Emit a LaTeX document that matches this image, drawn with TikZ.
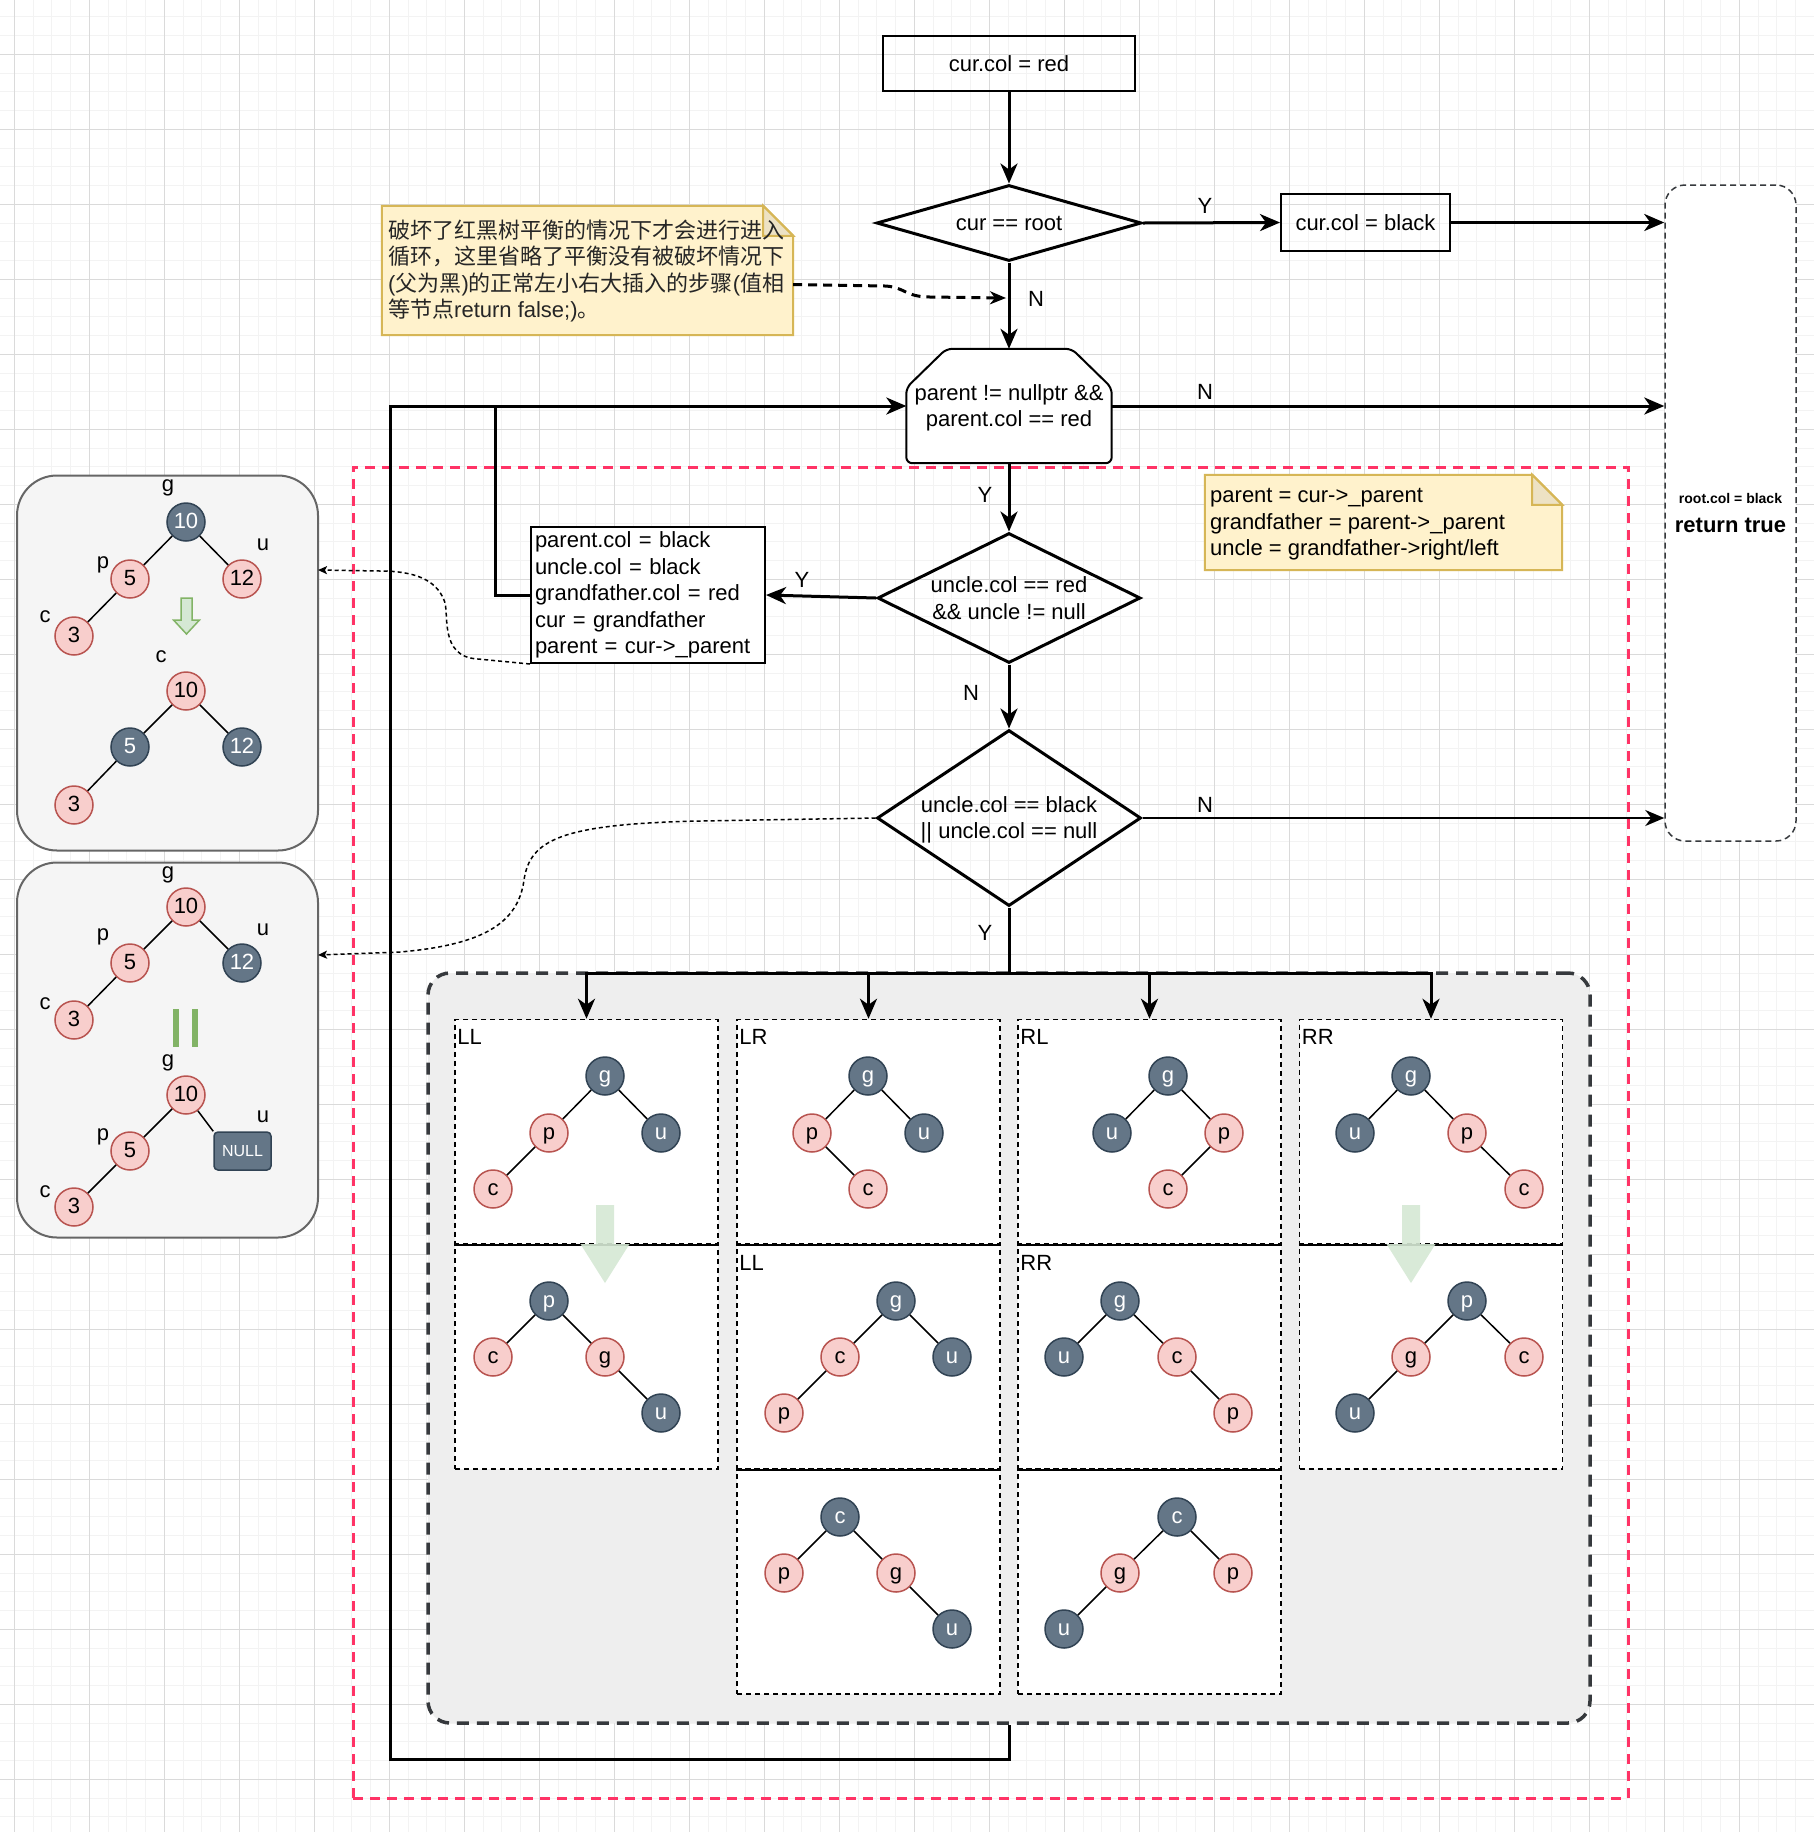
\documentclass[tikz,border=0pt]{standalone}
\usepackage{fontspec}
\setmainfont{Liberation Sans}
\newfontfamily\cjk{Noto Sans CJK SC}
\usetikzlibrary{arrows.meta,shapes.geometric,calc}
\definecolor{darkF}{HTML}{647687}
\definecolor{darkS}{HTML}{314354}
\definecolor{redF}{HTML}{F8CECC}
\definecolor{redS}{HTML}{B85450}
\definecolor{noteF}{HTML}{FFF2CC}
\definecolor{noteS}{HTML}{D6B656}
\definecolor{noteFold}{HTML}{EDE2C4}
\definecolor{panelF}{HTML}{EEEEEE}
\definecolor{panelS}{HTML}{36393D}
\definecolor{leftF}{HTML}{F5F5F5}
\definecolor{leftS}{HTML}{666666}
\definecolor{redDash}{HTML}{FF3366}
\definecolor{greenF}{HTML}{D5E8D4}
\definecolor{greenS}{HTML}{82B366}
\definecolor{gridMaj}{HTML}{DADADA}
\definecolor{gridMin}{HTML}{F3F3F3}
\newcommand\zh[1]{{\cjk #1}}
\tikzset{
  every node/.style={font=\fontsize{22}{26.5}\selectfont, inner sep=0pt},
  proc/.style={draw, line width=2pt},
  dia/.style={draw, line width=3pt, diamond},
  flow/.style={line width=3pt, -{Stealth[length=20pt,width=17pt,inset=6pt]}},
  flowline/.style={line width=3pt},
  thinflow/.style={line width=2pt, -{Stealth[length=19pt,width=16pt,inset=6pt]}},
  dconn/.style={line width=1.5pt, dash pattern=on 4pt off 3pt, -{Stealth[length=9pt,width=8pt,inset=2pt]}},
  notestyle/.style={draw=noteS, fill=noteF, line width=2pt},
  rn/.style={circle, draw=redS, fill=redF, line width=1.5pt, minimum size=38pt, text height=17pt, text depth=4pt},
  bn/.style={circle, draw=darkS, fill=darkF, line width=1.5pt, minimum size=38pt, text=white, text height=17pt, text depth=4pt},
  tedge/.style={line width=1.5pt},
  colbox/.style={draw, fill=white, line width=1.5pt, dash pattern=on 5pt off 4pt, minimum width=263pt, minimum height=225pt},
  sepline/.style={line width=2pt},
  lpanel/.style={draw=leftS, fill=leftF, line width=2pt, rounded corners=40pt, minimum width=301pt, minimum height=375pt}
}
\begin{document}
\begin{tikzpicture}[x=1pt,y=-1pt]
\useasboundingbox (0,0) rectangle (1814,1832);
\fill[white] (0,0) rectangle (1814,1832);
% grid
\foreach \i in {0,...,100} {
  \pgfmathsetmacro\gx{\i*18.75-60.7}
  \pgfmathsetmacro\gy{\i*18.75-20.7}
  \draw[gridMin, line width=1pt] (\gx,0) -- (\gx,1832);
  \draw[gridMin, line width=1pt] (0,\gy) -- (1814,\gy);
}
\foreach \i in {0,...,25} {
  \pgfmathsetmacro\gx{\i*75+14.3}
  \pgfmathsetmacro\gy{\i*75+54.3}
  \draw[gridMaj, line width=1pt] (\gx,0) -- (\gx,1832);
  \draw[gridMaj, line width=1pt] (0,\gy) -- (1814,\gy);
}

% red dashed zone
\node[draw=redDash, line width=3pt, dash pattern=on 10pt off 7pt, minimum width=1275pt, minimum height=1331pt] (zone) at (990.5,1132.5) {};

% grey panel
\node[draw=panelS, fill=panelF, line width=3.5pt, dash pattern=on 12pt off 8pt, rounded corners=22pt, minimum width=1162pt, minimum height=750pt] (gp) at (1009,1348) {};

% return box
\node[draw=panelS, fill=white, line width=1.5pt, dash pattern=on 6pt off 4pt, rounded corners=20pt, minimum width=131pt, minimum height=656pt, align=center] (ret) at (1730.5,513)
  {{\fontsize{14}{17}\selectfont\bfseries root.col = black}\\[3pt]{\fontsize{22}{24}\selectfont\bfseries return true}};

% flowchart nodes
\node[proc, minimum width=252pt, minimum height=55pt] (c0) at (1009,63.5) {cur.col = red};
\node[dia, minimum width=265pt, minimum height=76pt] (d1) at (1009,223) {};
\node (d1t) at (d1) {cur == root};
\node[proc, minimum width=169pt, minimum height=57pt] (blk) at (1365.5,222.5) {cur.col = black};

\node[minimum width=205pt, minimum height=114pt] (oct) at (1009,406) {};
\draw[line width=2pt, rounded corners=6pt, fill=white] (oct.south west) -- ($(oct.north west)+(0,39)$) -- ($(oct.north west)+(40,0)$) -- ($(oct.north east)+(-40,0)$) -- ($(oct.north east)+(0,39)$) -- (oct.south east) -- cycle;
\node[align=center] (octt) at (1009,408) {parent != nullptr \&\&\\parent.col == red};

\node[dia, minimum width=263pt, minimum height=130pt] (d2) at (1009,598) {};
\node[align=center] (d2t) at (d2) {uncle.col == red\\\&\& uncle != null};
\node[dia, minimum width=264pt, minimum height=176pt] (d3) at (1009,818) {};
\node[align=center] (d3t) at (1009,820) {uncle.col == black\\|| uncle.col == null};

\node[proc, fill=white, minimum width=234pt, minimum height=136pt, text width=226pt, align=left] (box) at (648,595)
  {parent.col = black\\uncle.col = black\\grandfather.col = red\\cur = grandfather\\parent = cur->\_parent};

% note 1
\node[minimum width=411pt, minimum height=129pt] (note1) at (587.5,270.5) {};
\draw[notestyle] (note1.north west) -- ($(note1.north east)+(-30,0)$) -- ($(note1.north east)+(0,30)$) -- (note1.south east) -- (note1.south west) -- cycle;
\draw[notestyle, fill=noteFold] ($(note1.north east)+(-30,0)$) -- ($(note1.north east)+(-30,30)$) -- ($(note1.north east)+(0,30)$) -- cycle;
\node[anchor=west, align=left, text=black!85] (note1t) at (388,271)
  {\zh{破坏了红黑树平衡的情况下才会进行进入}\\\zh{循环，这里省略了平衡没有被破坏情况下}\\(\zh{父为黑})\zh{的正常左小右大插入的步骤}(\zh{值相}\\\zh{等节点}return false;)\zh{。}};

% note 2
\node[minimum width=357pt, minimum height=95pt] (note2) at (1383.5,522.5) {};
\draw[notestyle] (note2.north west) -- ($(note2.north east)+(-30,0)$) -- ($(note2.north east)+(0,30)$) -- (note2.south east) -- (note2.south west) -- cycle;
\draw[notestyle, fill=noteFold] ($(note2.north east)+(-30,0)$) -- ($(note2.north east)+(-30,30)$) -- ($(note2.north east)+(0,30)$) -- cycle;
\node[anchor=west, align=left] (note2t) at (1210,524.5)
  {parent = cur->\_parent\\grandfather = parent->\_parent\\uncle = grandfather->right/left};

% connectors
\coordinate (cJ) at (495,406);
\coordinate (cL) at (390,1759);
\coordinate (bus) at (1009,973);
\coordinate (nStart) at ($(note1.east)+(0,14)$);
\coordinate (nEnd) at (1006,298);
\coordinate (pAin) at (318,570);
\coordinate (pBin) at (318,955);

\draw[flow] (c0.south) -- (d1.north);
\draw[flow] (d1.east) -- (blk.west);
\draw[flow] (blk.east) -- (blk.east -| ret.west);
\draw[flow] (d1.south) -- (oct.north);
\draw[flow] (oct.east) -- (oct.east -| ret.west);
\draw[flow] (oct.south) -- (d2.north);
\draw[flow] (d2.west) -- (box.east);
\draw[flowline] (box.west) -| (cJ);
\draw[flow] (d2.south) -- (d3.north);
\draw[thinflow] (d3.east) -- (d3.east -| ret.west);
\draw[flowline] (d3.south) -- (bus);
\draw[flow] (gp.south) |- (cL) |- (oct.west);
\draw[line width=3pt, dash pattern=on 9pt off 6pt, -{Stealth[length=16pt,width=13pt,inset=5pt]}] (nStart) -- (885,286) .. controls (905,287) and (905,297) .. (930,297) -- (nEnd);

% labels
\node at (1205,206) {Y};
\node at (1036,299) {N};
\node at (1205,392) {N};
\node at (985,495) {Y};
\node at (802,580) {Y};
\node at (971,693) {N};
\node at (1205,805) {N};
\node at (985,933) {Y};

% columns
\node[colbox] (ll1) at (586.5,1132) {};
\node[colbox] (ll2) at (586.5,1356.5) {};
\node[colbox] (lr1) at (868.5,1132) {};
\node[colbox] (lr2) at (868.5,1356.5) {};
\node[colbox] (lr3) at (868.5,1581.5) {};
\node[colbox] (rl1) at (1149.5,1132) {};
\node[colbox] (rl2) at (1149.5,1356.5) {};
\node[colbox] (rl3) at (1149.5,1581.5) {};
\node[colbox] (rr1) at (1431,1132) {};
\node[colbox] (rr2) at (1431,1356.5) {};
\foreach \c in {ll1,lr1,lr2,rl1,rl2,rr1} {\draw[sepline] (\c.south west) -- (\c.south east);}
\draw[flow] (bus) -| (ll1.north);
\draw[flow] (bus) -| (lr1.north);
\draw[flow] (bus) -| (rl1.north);
\draw[flow] (bus) -| (rr1.north);

\node[anchor=west] at ($(ll1.north west)+(3,18)$) {LL};
\node[anchor=west] at ($(lr1.north west)+(3,18)$) {LR};
\node[anchor=west] at ($(rl1.north west)+(3,18)$) {RL};
\node[anchor=west] at ($(rr1.north west)+(3,18)$) {RR};
\node[anchor=west] at ($(lr2.north west)+(3,20)$) {LL};
\node[anchor=west] at ($(rl2.north west)+(3,20)$) {RR};

% LL top
\node[bn] (a1g) at (605,1076) {g};
\node[rn] (a1p) at (549,1133) {p};
\node[bn] (a1u) at (661,1133) {u};
\node[rn] (a1c) at (493,1189) {c};
\draw[tedge] (a1g) -- (a1p); \draw[tedge] (a1g) -- (a1u); \draw[tedge] (a1p) -- (a1c);
% LL bottom
\node[bn] (a2p) at (549,1301) {p};
\node[rn] (a2c) at (493,1357) {c};
\node[rn] (a2g) at (605,1357) {g};
\node[bn] (a2u) at (661,1413) {u};
\draw[tedge] (a2p) -- (a2c); \draw[tedge] (a2p) -- (a2g); \draw[tedge] (a2g) -- (a2u);
% LR top
\node[bn] (b1g) at (868,1076) {g};
\node[rn] (b1p) at (812,1133) {p};
\node[bn] (b1u) at (924,1133) {u};
\node[rn] (b1c) at (868,1189) {c};
\draw[tedge] (b1g) -- (b1p); \draw[tedge] (b1g) -- (b1u); \draw[tedge] (b1p) -- (b1c);
% LR mid
\node[bn] (b2g) at (896,1301) {g};
\node[rn] (b2c) at (840,1357) {c};
\node[bn] (b2u) at (952,1357) {u};
\node[rn] (b2p) at (784,1413) {p};
\draw[tedge] (b2g) -- (b2c); \draw[tedge] (b2g) -- (b2u); \draw[tedge] (b2c) -- (b2p);
% LR bottom
\node[bn] (b3c) at (840,1517) {c};
\node[rn] (b3p) at (784,1573) {p};
\node[rn] (b3g) at (896,1573) {g};
\node[bn] (b3u) at (952,1629) {u};
\draw[tedge] (b3c) -- (b3p); \draw[tedge] (b3c) -- (b3g); \draw[tedge] (b3g) -- (b3u);
% RL top
\node[bn] (c1g) at (1168,1076) {g};
\node[bn] (c1u) at (1112,1133) {u};
\node[rn] (c1p) at (1224,1133) {p};
\node[rn] (c1c) at (1168,1189) {c};
\draw[tedge] (c1g) -- (c1u); \draw[tedge] (c1g) -- (c1p); \draw[tedge] (c1p) -- (c1c);
% RL mid
\node[bn] (c2g) at (1120,1301) {g};
\node[bn] (c2u) at (1064,1357) {u};
\node[rn] (c2c) at (1177,1357) {c};
\node[rn] (c2p) at (1233,1413) {p};
\draw[tedge] (c2g) -- (c2u); \draw[tedge] (c2g) -- (c2c); \draw[tedge] (c2c) -- (c2p);
% RL bottom
\node[bn] (c3c) at (1177,1517) {c};
\node[rn] (c3g) at (1120,1573) {g};
\node[rn] (c3p) at (1233,1573) {p};
\node[bn] (c3u) at (1064,1629) {u};
\draw[tedge] (c3c) -- (c3g); \draw[tedge] (c3c) -- (c3p); \draw[tedge] (c3g) -- (c3u);
% RR top
\node[bn] (e1g) at (1411,1076) {g};
\node[bn] (e1u) at (1355,1133) {u};
\node[rn] (e1p) at (1467,1133) {p};
\node[rn] (e1c) at (1524,1189) {c};
\draw[tedge] (e1g) -- (e1u); \draw[tedge] (e1g) -- (e1p); \draw[tedge] (e1p) -- (e1c);
% RR bottom
\node[bn] (e2p) at (1467,1301) {p};
\node[rn] (e2g) at (1411,1357) {g};
\node[rn] (e2c) at (1524,1357) {c};
\node[bn] (e2u) at (1355,1413) {u};
\draw[tedge] (e2p) -- (e2g); \draw[tedge] (e2p) -- (e2c); \draw[tedge] (e2g) -- (e2u);

% green arrows
\fill[greenF, opacity=0.9] (596,1205) -- (614,1205) -- (614,1244) -- (629.5,1244) -- (605,1283) -- (580.5,1244) -- (596,1244) -- cycle;
\fill[greenF, opacity=0.9] (1402,1205) -- (1420,1205) -- (1420,1244) -- (1435.5,1244) -- (1411,1283) -- (1386.5,1244) -- (1402,1244) -- cycle;

% left panels
\node[lpanel] (pA) at (167.5,663) {};
\node[lpanel] (pB) at (167.5,1050) {};
% panel A
\node (pAg) at (168,488) {g};
\node (pAu) at (263,545) {u};
\node (pAp) at (103,565) {p};
\node (pAc) at (45,617) {c};
\node[bn] (pA10) at (186,522) {10};
\node[rn] (pA5) at (130,579) {5};
\node[rn] (pA12) at (242,579) {12};
\node[rn] (pA3) at (74,636) {3};
\draw[tedge] (pA10) -- (pA5); \draw[tedge] (pA10) -- (pA12); \draw[tedge] (pA5) -- (pA3);
\draw[fill=greenF, draw=greenS, line width=1.5pt] (181,598) -- (192,598) -- (192,620) -- (199.5,620) -- (186.5,634) -- (173.5,620) -- (181,620) -- cycle;
\node (pAc2) at (161,657) {c};
\node[rn] (pB10x) at (186,691) {10};
\node[bn] (pB5x) at (130,747) {5};
\node[bn] (pB12x) at (242,747) {12};
\node[rn] (pB3x) at (74,805) {3};
\draw[tedge] (pB10x) -- (pB5x); \draw[tedge] (pB10x) -- (pB12x); \draw[tedge] (pB5x) -- (pB3x);
% panel B
\node (qg1) at (168,875) {g};
\node (qu1) at (263,930) {u};
\node (qp1) at (103,937) {p};
\node (qc1) at (45,1004) {c};
\node[rn] (q10) at (186,907) {10};
\node[rn] (q5) at (130,963) {5};
\node[bn] (q12) at (242,963) {12};
\node[rn] (q3) at (74,1020) {3};
\draw[tedge] (q10) -- (q5); \draw[tedge] (q10) -- (q12); \draw[tedge] (q5) -- (q3);
\fill[greenS] (173,1009) rectangle (179,1047);
\fill[greenS] (192,1009) rectangle (198,1047);
\node (qg2) at (168,1063) {g};
\node (qu2) at (263,1117) {u};
\node (qp2) at (103,1137) {p};
\node (qc2) at (45,1192) {c};
\node[rn] (r10) at (186,1095) {10};
\node[draw=darkS, fill=darkF, line width=1.5pt, rounded corners=4pt, minimum width=57pt, minimum height=38pt, text=white, font=\fontsize{16}{18}\selectfont] (rnull) at (242.5,1151) {NULL};
\node[rn] (r5) at (130,1151) {5};
\node[rn] (r3) at (74,1207) {3};
\draw[tedge] (r10) -- (rnull.north west); \draw[tedge] (r10) -- (r5); \draw[tedge] (r5) -- (r3);

% dashed connectors to panels
\draw[dconn] (box.south west) -- (478,659) .. controls (438,657) and (450,612) .. (444,600) .. controls (436,580) and (415,571) .. (380,571) -- (pAin);
\draw[dconn] (d3.west) -- (700,821) .. controls (560,824) and (530,840) .. (524,880) .. controls (518,925) and (480,945) .. (400,952) -- (pBin);
\end{tikzpicture}
\end{document}
